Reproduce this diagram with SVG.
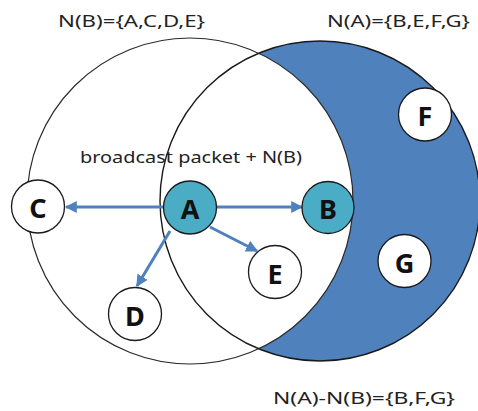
<svg xmlns="http://www.w3.org/2000/svg" width="478" height="411" viewBox="0 0 478 411">
<style>
.set{fill:none;stroke:#2a2a2a;stroke-width:1.2}
.lbl{font-family:"Noto Sans","Liberation Sans",sans-serif;font-size:17px;fill:#222}
.node{stroke:#1a1a1a;stroke-width:1.3}
.w{fill:#ffffff}
.t{fill:#4BACC6}
.nt{font-family:"Noto Sans","Liberation Sans",sans-serif;font-size:27px;font-weight:bold;fill:#111;text-anchor:middle;dominant-baseline:central}
.arr{stroke:#4F81BD;stroke-width:3;fill:none;marker-end:url(#ah)}
</style>
<defs>
<marker id="ah" viewBox="0 0 10 10" refX="9" refY="5" markerWidth="4" markerHeight="4" orient="auto" markerUnits="strokeWidth">
<path d="M0,0 L10,5 L0,10 z" fill="#4F81BD"/>
</marker>
</defs>
<rect width="478" height="411" fill="#ffffff"/>
<g id="sets">
<path d="M258.7,53.2 A160,160 0 1 1 258.7,348.8 A163,163 0 0 0 258.7,53.2 Z" fill="#4F81BD"/>
<circle class="set" cx="190" cy="201" r="163"/>
<circle class="set" cx="320" cy="201" r="160" style="stroke:#1a1a1a;stroke-width:1.4"/>
</g>
<g id="labels">
<text class="lbl" x="58" y="27" textLength="147" lengthAdjust="spacingAndGlyphs">N(B)={A,C,D,E}</text>
<text class="lbl" x="327" y="27" textLength="143" lengthAdjust="spacingAndGlyphs">N(A)={B,E,F,G}</text>
<text class="lbl" x="80" y="163" textLength="222" lengthAdjust="spacingAndGlyphs">broadcast packet + N(B)</text>
<text class="lbl" x="273" y="404" textLength="182" lengthAdjust="spacingAndGlyphs">N(A)-N(B)={B,F,G}</text>
</g>
<g id="connectors">
<line class="arr" x1="164" y1="207" x2="66" y2="207"/>
<line class="arr" x1="216" y1="207" x2="302" y2="207"/>
<line class="arr" x1="210" y1="227" x2="257" y2="251"/>
<line class="arr" x1="170" y1="231" x2="137" y2="286"/>
</g>
<g id="node-A"><circle class="node t" cx="190" cy="207.5" r="26.5"/><text class="nt" x="190" y="208">A</text></g>
<g id="node-B"><circle class="node t" cx="328" cy="207.5" r="26"/><text class="nt" x="328" y="208">B</text></g>
<g id="node-C"><circle class="node w" cx="38" cy="206.5" r="26.5"/><text class="nt" x="38" y="207">C</text></g>
<g id="node-D"><circle class="node w" cx="135" cy="314" r="26.5"/><text class="nt" x="135" y="315">D</text></g>
<g id="node-E"><circle class="node w" cx="275" cy="272" r="26.5"/><text class="nt" x="275" y="273">E</text></g>
<g id="node-F"><circle class="node w" cx="425" cy="114.5" r="26.5"/><text class="nt" x="425" y="115">F</text></g>
<g id="node-G"><circle class="node w" cx="404.5" cy="261" r="26.5"/><text class="nt" x="404.5" y="262">G</text></g>
</svg>
